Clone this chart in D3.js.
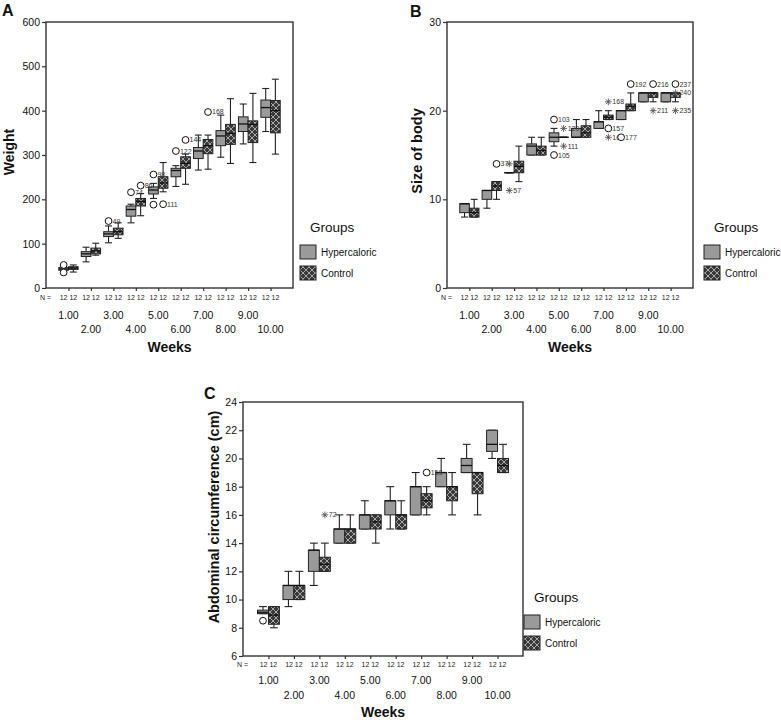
<!DOCTYPE html>
<html><head><meta charset="utf-8">
<script src="https://cdn.jsdelivr.net/npm/d3@7"></script>
<style>body{margin:0;background:#fff} svg{display:block;font-family:"Liberation Sans",Arial,sans-serif}</style>
</head><body><svg id="c" width="781" height="720"></svg>
<script>
const weeks = [1,2,3,4,5,6,7,8,9,10];
const weekLabels = ["1.00","2.00","3.00","4.00","5.00","6.00","7.00","8.00","9.00","10.00"];
const nLabel = "12 12";
const groupNames = ["Hypercaloric","Control"];

// [low whisker, Q1, median, Q3, high whisker] per week
const weightHyp = [
 [38,40,43,46,48],[59,71,77,82,92],[102,116,122,127,140],[147,162,177,185,189],[202,212,221,228,236],
 [229,251,265,270,276],[266,292,309,317,345],[295,321,343,355,390],[325,353,370,386,415],[353,385,407,424,450]
];
const weightCtrl = [
 [36,42,45,48,52],[74,77,84,90,101],[112,120,127,135,147],[163,185,195,202,213],[217,225,237,251,283],
 [234,270,281,296,302],[268,303,321,335,345],[281,324,349,369,427],[283,328,369,377,439],[302,350,400,423,471]
];
const weightOutliers = [
 {w:1,g:0,v:52,label:"",t:"o"},{w:1,g:0,v:35,label:"",t:"o"},
 {w:3,g:0,v:151,label:"49",t:"o"},{w:4,g:0,v:216,label:"74",t:"o"},{w:4,g:1,v:231,label:"86",t:"o"},
 {w:5,g:0,v:256,label:"98",t:"o"},{w:5,g:0,v:188,label:"",t:"o"},{w:5,g:1,v:189,label:"111",t:"o"},
 {w:6,g:0,v:309,label:"122",t:"o"},{w:6,g:1,v:334,label:"144",t:"o"},{w:7,g:1,v:397,label:"168",t:"o"}
];

const sizeHyp = [
 [8,8.5,9.5,9.5,9.5],[9,10,11,11,11],[13,13,13,13,13],[15,15,16,16.25,17],[16,16.5,17,17.5,18],
 [17,17,17,18,19],[18,18,18.75,18.75,20],[19,19,20,20,20],[21,21,22,22,22],[21,21,22,22,22]
];
const sizeCtrl = [
 [8,8,8.5,9,10],[10,11,11.5,12,12],[12,13,13.7,14.3,16],[15,15,15.5,16,17],[17,17,17,17,17],
 [17,17,17.5,18.3,19],[19,19,19.25,19.5,20],[20,20,20.5,20.75,22],[21,21.5,22,22,22],[21,21.5,22,22,22]
];
const sizeOutliers = [
 {w:2,g:1,v:14,label:"37",t:"o"},{w:3,g:0,v:14,label:"58",t:"s"},{w:3,g:0,v:11,label:"57",t:"s"},
 {w:5,g:0,v:19,label:"103",t:"o"},{w:5,g:0,v:15,label:"105",t:"o"},{w:5,g:1,v:18,label:"120",t:"s"},
 {w:5,g:1,v:16,label:"111",t:"s"},{w:7,g:1,v:21,label:"168",t:"s"},{w:7,g:1,v:18,label:"157",t:"o"},
 {w:7,g:1,v:17,label:"162",t:"s"},{w:8,g:0,v:17,label:"177",t:"o"},{w:8,g:1,v:23,label:"192",t:"o"},
 {w:9,g:1,v:23,label:"216",t:"o"},{w:9,g:1,v:20,label:"211",t:"s"},{w:10,g:1,v:23,label:"237",t:"o"},
 {w:10,g:1,v:20,label:"235",t:"s"},{w:10,g:1,v:22,label:"240",t:"s"}
];

const abdHyp = [
 [9,9,9.1,9.25,9.5],[9.5,10,11,11,12],[11,12,13.5,13.5,14],[14,14,15,15,16],[15,15,16,16,17],
 [15,16,17,17,18],[16,16,18,18,19],[18,18,19,19,20],[19,19,19.5,20,21],[20,20.5,21,22,22]
];
const abdCtrl = [
 [8,8.25,8.9,9.5,9.5],[10,10,11,11,12],[12,12,12.5,13,14],[14,14,15,15,16],[14,15,15.5,16,16],
 [15,15,16,16,17],[16,16.5,17,17.5,18],[16,17,18,18,19],[16,17.5,19,19,19],[19,19,19.5,20,21]
];
const abdOutliers = [
 {w:1,g:0,v:8.5,label:"",t:"o"},{w:3,g:1,v:16,label:"72",t:"s"},{w:7,g:1,v:19,label:"159",t:"o"}
];

const svg = d3.select("#c");
const defs = svg.append("defs");
const pat = defs.append("pattern").attr("id","hatch").attr("width",6).attr("height",6).attr("patternUnits","userSpaceOnUse");
pat.append("rect").attr("width",6).attr("height",6).attr("fill","#383838");
pat.append("path").attr("d","M0,0L6,6M6,0L0,6").attr("stroke","#d8d8d8").attr("stroke-width",0.7);
const fills = ["#9a9a9a","url(#hatch)"];

function drawPanel(p){
  const g = svg.append("g");
  const x = d3.scalePoint().domain(weeks).range([p.x0,p.x1]).padding(1);
  const y = d3.scaleLinear().domain(p.yDomain).range([p.yBot,p.yTop]);
  const bw = x.step()*0.43;

  g.append("rect").attr("x",p.x0).attr("y",p.yTop).attr("width",p.x1-p.x0).attr("height",p.yBot-p.yTop)
    .attr("fill","none").attr("stroke","#333").attr("stroke-width",1.4);

  const ya = g.append("g").attr("transform",`translate(${p.x0},0)`)
    .call(d3.axisLeft(y).tickValues(p.yTicks).tickSize(4).tickPadding(2).tickFormat(d3.format("d")));
  ya.select(".domain").remove();
  ya.selectAll("line").attr("stroke","#333").attr("stroke-width",1.2);
  ya.selectAll("text").attr("font-size",10.5).attr("fill","#111").attr("font-family","Liberation Sans, Arial, sans-serif");

  const xa = g.append("g").attr("transform",`translate(0,${p.yBot})`)
    .call(d3.axisBottom(x).tickSize(3).tickFormat(""));
  xa.select(".domain").remove();
  xa.selectAll("line").attr("stroke","#333").attr("stroke-width",1.2);

  g.append("text").attr("x",p.x0-6).attr("y",p.yBot+p.nDy).attr("font-size",7).attr("fill","#222").text("N =");
  g.selectAll(".nl").data(weeks).enter().append("text").attr("x",d=>x(d)).attr("y",p.yBot+p.nDy)
    .attr("text-anchor","middle").attr("font-size",7).attr("fill","#222").text(nLabel);
  g.selectAll(".wl").data(weeks).enter().append("text").attr("x",d=>x(d))
    .attr("y",(d,i)=>p.yBot+(i%2===0?p.r1Dy:p.r2Dy)).attr("text-anchor","middle").attr("font-size",10.5)
    .attr("fill","#111").text((d,i)=>weekLabels[i]);
  g.append("text").attr("x",(p.x0+p.x1)/2).attr("y",p.yBot+p.wDy).attr("text-anchor","middle")
    .attr("font-size",14).attr("font-weight","bold").attr("fill","#111").text("Weeks");

  g.append("text").attr("transform",`translate(${p.ylx},${p.yly}) rotate(-90)`).attr("text-anchor","middle")
    .attr("font-size",p.ylSize).attr("font-weight","bold").attr("fill","#111").text(p.yLabel);
  g.append("text").attr("x",p.lx).attr("y",p.ly).attr("font-size",16).attr("font-weight","bold").attr("fill","#111").text(p.letter);

  const left = (w,gi)=> gi===0 ? x(w)-bw : x(w);
  [p.hyp,p.ctrl].forEach((data,gi)=>{
    data.forEach((s,i)=>{
      const w = weeks[i], l = left(w,gi), cx = l+bw/2, cap = bw*0.36;
      const [lo,q1,md,q3,hi] = s;
      g.append("line").attr("x1",cx).attr("x2",cx).attr("y1",y(hi)).attr("y2",y(q3)).attr("stroke","#222").attr("stroke-width",1.1);
      g.append("line").attr("x1",cx).attr("x2",cx).attr("y1",y(q1)).attr("y2",y(lo)).attr("stroke","#222").attr("stroke-width",1.1);
      g.append("line").attr("x1",cx-cap).attr("x2",cx+cap).attr("y1",y(hi)).attr("y2",y(hi)).attr("stroke","#222").attr("stroke-width",1.1);
      g.append("line").attr("x1",cx-cap).attr("x2",cx+cap).attr("y1",y(lo)).attr("y2",y(lo)).attr("stroke","#222").attr("stroke-width",1.1);
      g.append("rect").attr("x",l).attr("y",y(q3)).attr("width",bw).attr("height",Math.max(0.01,y(q1)-y(q3)))
        .attr("fill",fills[gi]).attr("stroke","#222").attr("stroke-width",1);
      g.append("line").attr("x1",l).attr("x2",l+bw).attr("y1",y(md)).attr("y2",y(md)).attr("stroke","#111").attr("stroke-width",1.3);
    });
  });

  p.outliers.forEach(o=>{
    const cx = left(o.w,o.g)+bw/2, cy = y(o.v);
    if(o.t==="o"){
      g.append("circle").attr("cx",cx).attr("cy",cy).attr("r",3.4).attr("fill","#fff").attr("stroke","#111").attr("stroke-width",1);
    } else {
      const r=3.4, d=r*0.7;
      g.append("path").attr("d",`M${cx-r},${cy}L${cx+r},${cy}M${cx},${cy-r}L${cx},${cy+r}M${cx-d},${cy-d}L${cx+d},${cy+d}M${cx-d},${cy+d}L${cx+d},${cy-d}`)
        .attr("stroke","#555").attr("stroke-width",0.9);
    }
    if(o.label) g.append("text").attr("x",cx+4).attr("y",cy+2.5).attr("font-size",7).attr("fill","#333").text(o.label);
  });

  g.append("text").attr("x",p.gx).attr("y",p.gy).attr("font-size",13.5).attr("fill","#111").text("Groups");
  groupNames.forEach((n,i)=>{
    g.append("rect").attr("x",p.gx-10).attr("y",p.gy+13+i*21).attr("width",16).attr("height",14)
      .attr("fill",fills[i]).attr("stroke","#222").attr("stroke-width",1);
    g.append("text").attr("x",p.gx+11).attr("y",p.gy+24+i*21).attr("font-size",10).attr("fill","#111").text(n);
  });
}

drawPanel({x0:46,x1:293,yTop:22,yBot:288,yDomain:[0,600],yTicks:[0,100,200,300,400,500,600],
  hyp:weightHyp,ctrl:weightCtrl,outliers:weightOutliers,nDy:11.5,r1Dy:30.5,r2Dy:44.5,wDy:63.5,
  yLabel:"Weight",ylx:14,yly:152,ylSize:14,letter:"A",lx:2,ly:16,gx:310,gy:232});
drawPanel({x0:447,x1:693,yTop:22,yBot:288,yDomain:[0,30],yTicks:[0,10,20,30],
  hyp:sizeHyp,ctrl:sizeCtrl,outliers:sizeOutliers,nDy:11.5,r1Dy:31,r2Dy:45,wDy:63.5,
  yLabel:"Size of body",ylx:422,yly:151,ylSize:14.5,letter:"B",lx:410,ly:17,gx:714,gy:232});
drawPanel({x0:243,x1:523,yTop:402,yBot:656,yDomain:[6,24],yTicks:[6,8,10,12,14,16,18,20,22,24],
  hyp:abdHyp,ctrl:abdCtrl,outliers:abdOutliers,nDy:11,r1Dy:27.5,r2Dy:42.5,wDy:60.5,
  yLabel:"Abdominal circumference (cm)",ylx:219,yly:517,ylSize:14.5,letter:"C",lx:204,ly:399,gx:534,gy:602});
</script></body></html>
